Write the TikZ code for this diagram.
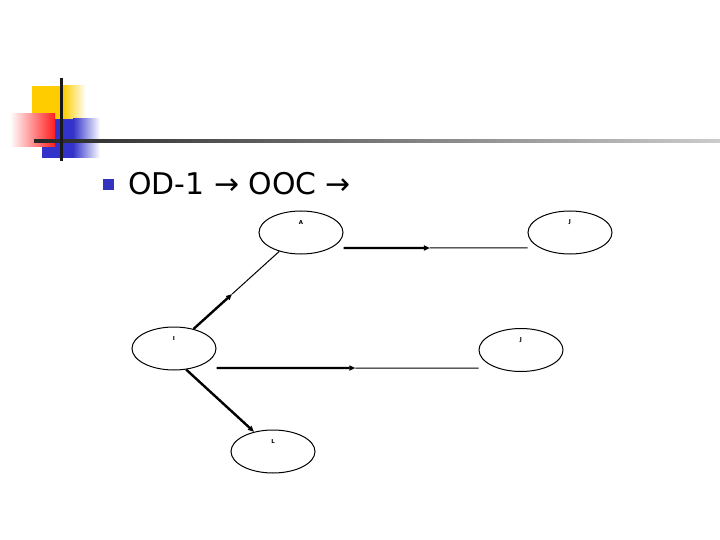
\documentclass[tikz,border=0pt]{standalone}
\usepackage{fontspec}
\newfontfamily\titlefont{DejaVu Sans}
\usetikzlibrary{shapes.geometric,arrows.meta,calc}
\definecolor{logoyellow}{RGB}{255,204,0}
\definecolor{logored}{RGB}{255,30,30}
\definecolor{logoblue}{RGB}{51,51,204}
\definecolor{bulletblue}{RGB}{51,51,190}
\tikzset{
  evt/.style={ellipse, draw=black, line width=1bp, minimum width=84bp, minimum height=43bp, inner sep=0pt},
  evtlabel/.style={font=\titlefont\bfseries\fontsize{5.5}{6}\selectfont, yshift=10bp},
  heavy/.style={line width=2.4bp, -{Triangle[length=6bp,width=5bp]}},
  light/.style={line width=1bp},
}
\begin{document}
\begin{tikzpicture}[x=1bp,y=-1bp]
\useasboundingbox (0,0) rectangle (720,540);
\fill[white] (0,0) rectangle (720,540);
% logo
\fill[logoyellow] (32,86) rectangle (63,133);
\shade[left color=logoyellow, right color=white] (63,86) rectangle (86,133);
\fill[logoblue] (42,119) rectangle (73,158);
\shade[left color=logoblue, right color=white] (73,119) rectangle (100,158);
\shade[left color=white, right color=logored] (10,114) rectangle (55,147);
\shade[left color=black!85, right color=black!20] (34,139.5) rectangle (720,142.5);
\fill[black!90] (59.5,78) rectangle (62.5,161);
% title
\fill[bulletblue] (103,179) rectangle (114,190);
\node[anchor=base west, inner sep=0pt, font=\titlefont\fontsize{30}{36}\selectfont] (title) at (128,195) {OD-1 → OOC →};
% events
\node[evt, label={[evtlabel]center:A}] (A) at (301,232.5) {};
\node[evt, label={[evtlabel]center:J}] (J) at (570,232.5) {};
\node[evt, label={[evtlabel]center:I}] (I) at (174,348.5) {};
\node[evt, label={[evtlabel]center:J}] (J2) at (521,350) {};
\node[evt, label={[evtlabel]center:L}] (L) at (273,451.5) {};
% connector end points
\coordinate (a1) at ([yshift=-15.5bp]A.east);
\coordinate (j1) at ([yshift=-15.5bp]J.west);
\coordinate (m1) at ($(a1)!0.47!(j1)$);
\coordinate (i1) at ([yshift=-19.5bp]I.east);
\coordinate (j2) at ([yshift=-18bp]J2.west);
\coordinate (m2) at ($(i1)!0.53!(j2)$);
\coordinate (m3) at ($(I.45)!0.45!(A.221)$);
% connectors
\draw[heavy] (a1) -- (m1);
\draw[light] (m1) -- (j1);
\draw[heavy] (i1) -- (m2);
\draw[light] (m2) -- (j2);
\draw[heavy] (I.45) -- (m3);
\draw[light] (m3) -- (A.221);
\draw[heavy] (I.300) -- (L.134);
\end{tikzpicture}
\end{document}
